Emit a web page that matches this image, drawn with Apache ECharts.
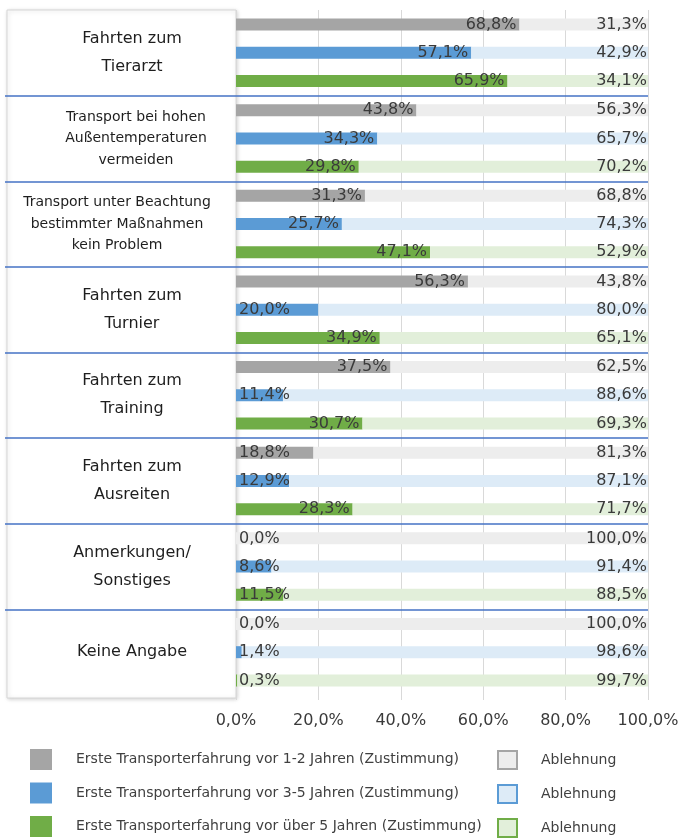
<!DOCTYPE html>
<html>
<head>
<meta charset="utf-8">
<script src="https://cdn.jsdelivr.net/npm/echarts@6/dist/echarts.min.js"></script>
<style>html,body{margin:0;padding:0;background:#fff}#c{width:681px;height:838px}</style>
</head>
<body>
<div id="c"></div>
<script>
const categories = [
  'Fahrten zum\nTierarzt',
  'Transport bei hohen\nAußentemperaturen\nvermeiden',
  'Transport unter Beachtung\nbestimmter Maßnahmen\nkein Problem',
  'Fahrten zum\nTurnier',
  'Fahrten zum\nTraining',
  'Fahrten zum\nAusreiten',
  'Anmerkungen/\nSonstiges',
  'Keine Angabe'
];
const agree12  = [68.8, 43.8, 31.3, 56.3, 37.5, 18.8, 0.0, 0.0];
const reject12 = [31.3, 56.3, 68.8, 43.8, 62.5, 81.3, 100.0, 100.0];
const agree35  = [57.1, 34.3, 25.7, 20.0, 11.4, 12.9, 8.6, 1.4];
const reject35 = [42.9, 65.7, 74.3, 80.0, 88.6, 87.1, 91.4, 98.6];
const agree5   = [65.9, 29.8, 47.1, 34.9, 30.7, 28.3, 11.5, 0.3];
const reject5  = [34.1, 70.2, 52.9, 65.1, 69.3, 71.7, 88.5, 99.7];
const seriesNames = [
  'Erste Transporterfahrung vor 1-2 Jahren (Zustimmung)',
  'Erste Transporterfahrung vor 3-5 Jahren (Zustimmung)',
  'Erste Transporterfahrung vor über 5 Jahren (Zustimmung)'
];
const rejectNames = ['Ablehnung (1-2 Jahre)', 'Ablehnung (3-5 Jahre)', 'Ablehnung (über 5 Jahre)'];

const FONT = 'DejaVu Sans';
const dark = ['#A5A5A5', '#5B9BD5', '#70AD47'];
const light = ['#EDEDED', '#DDEBF7', '#E2EFDA'];
const fmt = v => v.toFixed(1).replace('.', ',') + '%';

const chart = echarts.init(document.getElementById('c'));

function agreeSeries(idx, arr) {
  return {
    name: seriesNames[idx], type: 'bar', stack: 's' + idx,
    xAxisIndex: 0, yAxisIndex: 0,
    barWidth: 12, barGap: '135%',
    itemStyle: { color: dark[idx] },
    label: { show: true, fontFamily: FONT, fontSize: 16, color: '#3a3a3a', distance: 3,
             formatter: p => fmt(p.value) },
    data: arr.map(v => ({ value: v, label: { position: v <= 20 ? 'insideLeft' : 'insideRight' } }))
  };
}
function rejectSeries(idx, arr) {
  return {
    name: rejectNames[idx], type: 'bar', stack: 's' + idx,
    xAxisIndex: 0, yAxisIndex: 0,
    barWidth: 12, barGap: '135%',
    itemStyle: { color: light[idx] },
    label: { show: true, position: 'insideRight', fontFamily: FONT, fontSize: 16, color: '#3a3a3a', distance: 1,
             formatter: p => fmt(p.value) },
    data: arr
  };
}

// per-category label styling (text position tweaks only)
const catShift = [[0, 0, 12, 0], [6, 0, 0, 8], [2, 30, 0, 0], [0, 0, 0, 0], [0, 0, 0, 0], [0, 0, 4, 0], [0, 0, 0, 0], [0, 0, 4, 0]];
const catData = categories.map((c, i) => {
  const lines = c.split('\n').length;
  return {
    value: c,
    textStyle: lines > 2
      ? { align: 'center', fontSize: 14, lineHeight: 21.5, padding: catShift[i] }
      : { align: 'center', fontSize: 16, lineHeight: 28, padding: catShift[i] }
  };
});

chart.setOption({
  animation: false,
  grid: [
    { left: 236, right: 33, top: 10, bottom: 143, outerBoundsMode: 'none', containLabel: false },
    { left: 7, width: 229, top: 10, bottom: 140, show: true, borderColor: '#d6d6d6', borderWidth: 1,
      backgroundColor: '#fff', shadowBlur: 4, shadowColor: 'rgba(0,0,0,0.18)', shadowOffsetX: 1, shadowOffsetY: 1,
      outerBoundsMode: 'none' },
    { left: 5, right: 33, top: 10, bottom: 143, outerBoundsMode: 'none' }
  ],
  xAxis: [
    { type: 'value', gridIndex: 0, min: 0, max: 100, interval: 20,
      axisLine: { show: false },
      axisTick: { show: true, length: 5, lineStyle: { color: '#d9d9d9' } },
      splitLine: { lineStyle: { color: '#d9d9d9', width: 1 } },
      axisLabel: { fontFamily: FONT, fontSize: 16, color: '#3a3a3a', margin: 18, formatter: v => fmt(v) } },
    { type: 'value', gridIndex: 1, show: false, min: 0, max: 1 },
    { type: 'value', gridIndex: 2, show: false, min: 0, max: 1 }
  ],
  yAxis: [
    { type: 'category', gridIndex: 0, inverse: true, data: catData,
      axisLine: { show: false }, axisTick: { show: false }, splitLine: { show: false },
      axisLabel: { fontFamily: FONT, color: '#1e1e1e', align: 'center', margin: 104, interval: 0 } },
    { type: 'value', gridIndex: 1, show: false, min: 0, max: 1 },
    { type: 'value', gridIndex: 2, min: 0, max: 8, interval: 1, z: 5,
      axisLine: { show: false }, axisTick: { show: false }, axisLabel: { show: false },
      splitLine: { show: true, showMinLine: false, showMaxLine: false, lineStyle: { color: '#4472C4', width: 1.5 } } }
  ],
  legend: [
    { orient: 'vertical', left: 30, top: 749, padding: 0, itemWidth: 22, itemHeight: 21, itemGap: 12.5,
      icon: 'rect', selectedMode: false,
      textStyle: { fontFamily: FONT, fontSize: 14, color: '#404040', padding: [0, 0, 0, 19] },
      data: seriesNames },
    { orient: 'vertical', left: 497, top: 750, padding: 0, itemWidth: 19, itemHeight: 18, itemGap: 14,
      icon: 'rect', selectedMode: false,
      formatter: () => 'Ablehnung',
      textStyle: { fontFamily: FONT, fontSize: 14, color: '#404040', padding: [0, 0, 2, 19] },
      data: rejectNames.map((n, i) => ({ name: n, itemStyle: { color: light[i], borderColor: dark[i], borderWidth: 2 } })) }
  ],
  series: [
    agreeSeries(0, agree12), rejectSeries(0, reject12),
    agreeSeries(1, agree35), rejectSeries(1, reject35),
    agreeSeries(2, agree5), rejectSeries(2, reject5)
  ]
});
</script>
</body>
</html>
